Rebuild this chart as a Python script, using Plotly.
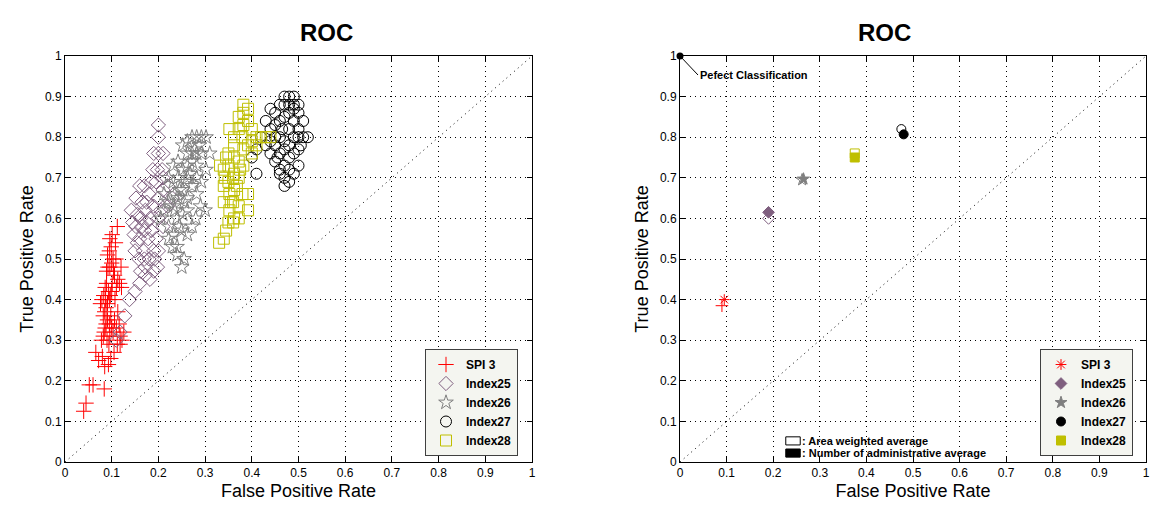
import plotly.graph_objects as go

# ---------------- data ----------------
series_names = ["SPI 3", "Index25", "Index26", "Index27", "Index28"]

spi3_points = [
    (0.040, 0.125), (0.045, 0.145), (0.052, 0.19), (0.060, 0.19), (0.084, 0.18), (0.085, 0.235),
    (0.072, 0.25), (0.066, 0.27), (0.080, 0.26), (0.093, 0.24), (0.098, 0.255), (0.105, 0.27),
    (0.112, 0.29), (0.122, 0.30), (0.126, 0.32), (0.118, 0.29), (0.078, 0.30), (0.082, 0.31),
    (0.084, 0.32), (0.086, 0.33), (0.088, 0.34), (0.090, 0.30), (0.094, 0.29), (0.096, 0.31),
    (0.100, 0.33), (0.106, 0.35), (0.082, 0.36), (0.085, 0.37), (0.088, 0.38), (0.091, 0.35),
    (0.095, 0.34), (0.098, 0.36), (0.103, 0.32), (0.110, 0.33), (0.116, 0.34), (0.076, 0.39),
    (0.079, 0.40), (0.083, 0.41), (0.087, 0.40), (0.091, 0.39), (0.095, 0.40), (0.100, 0.42),
    (0.110, 0.43), (0.086, 0.43), (0.089, 0.44), (0.093, 0.42), (0.097, 0.41), (0.101, 0.44),
    (0.106, 0.46), (0.113, 0.45), (0.121, 0.43), (0.089, 0.47), (0.092, 0.48), (0.096, 0.48),
    (0.100, 0.49), (0.104, 0.47), (0.109, 0.50), (0.091, 0.51), (0.095, 0.52), (0.099, 0.53),
    (0.103, 0.50), (0.096, 0.55), (0.101, 0.56), (0.108, 0.54), (0.112, 0.58), (0.117, 0.44),
    (0.120, 0.48), (0.107, 0.40), (0.113, 0.37), (0.118, 0.31),
]

index25_points = [
    (0.110, 0.30), (0.118, 0.32), (0.128, 0.36), (0.138, 0.40), (0.150, 0.42), (0.160, 0.44),
    (0.172, 0.46), (0.182, 0.45), (0.190, 0.47), (0.198, 0.48), (0.192, 0.50), (0.200, 0.52),
    (0.150, 0.52), (0.160, 0.55), (0.170, 0.57), (0.152, 0.58), (0.162, 0.60), (0.172, 0.62),
    (0.182, 0.60), (0.158, 0.50), (0.168, 0.52), (0.178, 0.55), (0.148, 0.56), (0.190, 0.63),
    (0.200, 0.65), (0.210, 0.67), (0.180, 0.66), (0.170, 0.68), (0.160, 0.68), (0.220, 0.68),
    (0.188, 0.72), (0.198, 0.72), (0.208, 0.72), (0.200, 0.76), (0.190, 0.76), (0.210, 0.76),
    (0.200, 0.83), (0.142, 0.62), (0.152, 0.65), (0.200, 0.60), (0.210, 0.58), (0.220, 0.63),
    (0.230, 0.65), (0.180, 0.50), (0.172, 0.48), (0.162, 0.47), (0.155, 0.54), (0.165, 0.58),
    (0.175, 0.59), (0.185, 0.57), (0.195, 0.55), (0.205, 0.62), (0.175, 0.64), (0.165, 0.64),
    (0.155, 0.61), (0.145, 0.59), (0.210, 0.70), (0.195, 0.69), (0.185, 0.69), (0.200, 0.80),
    (0.190, 0.52), (0.170, 0.50),
]

index26_points = [
    (0.250, 0.48), (0.255, 0.50), (0.240, 0.53), (0.222, 0.55), (0.232, 0.56), (0.250, 0.57),
    (0.262, 0.56), (0.272, 0.58), (0.240, 0.60), (0.252, 0.61), (0.262, 0.62), (0.232, 0.63),
    (0.222, 0.64), (0.242, 0.65), (0.252, 0.67), (0.272, 0.68), (0.262, 0.70), (0.242, 0.70),
    (0.232, 0.69), (0.222, 0.70), (0.282, 0.70), (0.292, 0.69), (0.252, 0.72), (0.262, 0.73),
    (0.272, 0.74), (0.282, 0.73), (0.242, 0.74), (0.302, 0.72), (0.310, 0.76), (0.282, 0.76),
    (0.272, 0.76), (0.292, 0.76), (0.262, 0.76), (0.252, 0.78), (0.272, 0.80), (0.282, 0.80),
    (0.292, 0.80), (0.302, 0.80), (0.262, 0.79), (0.212, 0.62), (0.212, 0.66), (0.300, 0.62),
    (0.280, 0.60), (0.290, 0.63), (0.262, 0.65), (0.282, 0.66), (0.232, 0.73), (0.205, 0.60),
    (0.222, 0.58), (0.245, 0.58), (0.235, 0.62), (0.255, 0.64), (0.245, 0.67), (0.235, 0.66),
    (0.268, 0.71), (0.258, 0.69), (0.278, 0.77), (0.288, 0.78), (0.230, 0.53), (0.240, 0.51),
]

index27_points = [
    (0.410, 0.71), (0.400, 0.75), (0.410, 0.77), (0.420, 0.80), (0.430, 0.78), (0.440, 0.76),
    (0.450, 0.74), (0.460, 0.72), (0.470, 0.70), (0.470, 0.68), (0.480, 0.69), (0.490, 0.71),
    (0.500, 0.73), (0.450, 0.78), (0.460, 0.80), (0.470, 0.79), (0.480, 0.78), (0.490, 0.80),
    (0.500, 0.80), (0.510, 0.80), (0.520, 0.80), (0.440, 0.82), (0.450, 0.83), (0.460, 0.84),
    (0.470, 0.85), (0.480, 0.86), (0.490, 0.87), (0.500, 0.88), (0.460, 0.88), (0.470, 0.88),
    (0.480, 0.88), (0.490, 0.88), (0.500, 0.86), (0.510, 0.84), (0.470, 0.90), (0.480, 0.90),
    (0.490, 0.90), (0.450, 0.86), (0.440, 0.87), (0.430, 0.84), (0.440, 0.79), (0.460, 0.76),
    (0.480, 0.75), (0.490, 0.76), (0.500, 0.77), (0.470, 0.73), (0.460, 0.71), (0.480, 0.82),
    (0.500, 0.82), (0.450, 0.80), (0.470, 0.77), (0.480, 0.72), (0.455, 0.75), (0.465, 0.82),
    (0.490, 0.84), (0.505, 0.78),
]

index28_points = [
    (0.330, 0.54), (0.340, 0.55), (0.345, 0.57), (0.350, 0.59), (0.360, 0.59), (0.362, 0.60),
    (0.352, 0.62), (0.340, 0.64), (0.360, 0.64), (0.372, 0.63), (0.352, 0.66), (0.362, 0.67),
    (0.380, 0.66), (0.392, 0.66), (0.340, 0.68), (0.350, 0.69), (0.372, 0.70), (0.362, 0.71),
    (0.340, 0.72), (0.350, 0.73), (0.372, 0.74), (0.382, 0.73), (0.362, 0.75), (0.350, 0.76),
    (0.382, 0.77), (0.392, 0.78), (0.400, 0.79), (0.410, 0.80), (0.420, 0.80), (0.430, 0.80),
    (0.440, 0.80), (0.380, 0.80), (0.362, 0.80), (0.372, 0.82), (0.382, 0.83), (0.392, 0.84),
    (0.372, 0.85), (0.382, 0.86), (0.392, 0.87), (0.382, 0.88), (0.362, 0.78), (0.352, 0.82),
    (0.400, 0.82), (0.400, 0.76), (0.372, 0.60), (0.392, 0.62), (0.342, 0.70), (0.332, 0.73),
    (0.360, 0.70), (0.410, 0.78), (0.355, 0.64), (0.368, 0.68), (0.345, 0.75), (0.375, 0.72),
]

area_weighted_fpr = [0.090, 0.190, 0.262, 0.475, 0.375]
area_weighted_tpr = [0.385, 0.600, 0.695, 0.820, 0.760]
admin_avg_fpr = [0.095, 0.190, 0.265, 0.480, 0.375]
admin_avg_tpr = [0.400, 0.615, 0.697, 0.807, 0.750]

perfect_fpr = [0.0]
perfect_tpr = [1.0]

tick_values = [0, 0.1, 0.2, 0.3, 0.4, 0.5, 0.6, 0.7, 0.8, 0.9, 1]
tick_labels = ["0", "0.1", "0.2", "0.3", "0.4", "0.5", "0.6", "0.7", "0.8", "0.9", "1"]

# ---------------- styles ----------------
colors = ["#ff0000", "#7f5f7f", "#7f7f7f", "#000000", "#bfbf00"]
open_symbols = ["cross-thin-open", "diamond-open", "star-open", "circle-open", "square-open"]
filled_symbols = ["asterisk-open", "diamond", "star", "circle", "square"]
point_sets = [spi3_points, index25_points, index26_points, index27_points, index28_points]

FONT = "Liberation Sans, Arial, Helvetica, sans-serif"

fig = go.Figure()

# diagonal reference lines
for xa, ya in (("x", "y"), ("x2", "y2")):
    fig.add_trace(go.Scatter(x=[0, 1], y=[0, 1], mode="lines", xaxis=xa, yaxis=ya,
                             line=dict(color="black", width=1, dash="1px,4px"),
                             showlegend=False, hoverinfo="skip"))

# left plot: all ROC points
for name, pts, col, sym in zip(series_names, point_sets, colors, open_symbols):
    fig.add_trace(go.Scatter(
        x=[p[0] for p in pts], y=[p[1] for p in pts], mode="markers", name="<b>%s</b>" % name,
        marker=dict(symbol=sym, size=11, color=col, line=dict(color=col, width=1)),
        xaxis="x", yaxis="y", legend="legend"))

# right plot: averages
for i, (name, col) in enumerate(zip(series_names, colors)):
    fig.add_trace(go.Scatter(
        x=[area_weighted_fpr[i]], y=[area_weighted_tpr[i]], mode="markers",
        marker=dict(symbol=open_symbols[i], size=9, color=col, line=dict(color=col, width=1)),
        xaxis="x2", yaxis="y2", showlegend=False))
for i, (name, col) in enumerate(zip(series_names, colors)):
    fig.add_trace(go.Scatter(
        x=[admin_avg_fpr[i]], y=[admin_avg_tpr[i]], mode="markers", name="<b>%s</b>" % name,
        marker=dict(symbol=filled_symbols[i], size=9, color=col, line=dict(color=col, width=1)),
        xaxis="x2", yaxis="y2", legend="legend2"))

fig.add_trace(go.Scatter(x=perfect_fpr, y=perfect_tpr, mode="markers", cliponaxis=False,
                         marker=dict(symbol="circle", size=7, color="black"),
                         xaxis="x2", yaxis="y2", showlegend=False))

axis_common = dict(range=[0, 1], tickvals=tick_values, ticktext=tick_labels,
                   showline=True, linecolor="black", linewidth=1, mirror="ticks",
                   ticks="inside", ticklen=5, tickcolor="black", automargin=False,
                   showgrid=True, gridcolor="black", gridwidth=1, griddash="1px,4px",
                   zeroline=False, tickfont=dict(family=FONT, size=12, color="black"))

xdom1 = [65 / 1167, 532 / 1167]
xdom2 = [680 / 1167, 1146 / 1167]
ydom = [(511 - 462) / 511, (511 - 56) / 511]

legend_common = dict(y=1 - 456 / 511, xanchor="left", yanchor="bottom",
                     bgcolor="#f4f5f0", bordercolor="#404040", borderwidth=1,
                     font=dict(family=FONT, size=12, color="black"), tracegroupgap=0)

fig.update_layout(
    width=1167, height=511, margin=dict(l=0, r=0, t=0, b=0, autoexpand=False),
    paper_bgcolor="white", plot_bgcolor="white",
    font=dict(family=FONT, color="black"),
    xaxis=dict(domain=xdom1, anchor="y", **axis_common,
               title=dict(text="False Positive Rate", font=dict(size=18), standoff=4)),
    yaxis=dict(domain=ydom, anchor="x", **axis_common,
               title=dict(text="True Positive Rate", font=dict(size=18), standoff=6)),
    xaxis2=dict(domain=xdom2, anchor="y2", **axis_common,
                title=dict(text="False Positive Rate", font=dict(size=18), standoff=4)),
    yaxis2=dict(domain=ydom, anchor="x2", **axis_common,
                title=dict(text="True Positive Rate", font=dict(size=18), standoff=6)),
    legend=dict(x=425 / 1167, **legend_common),
    legend2=dict(x=1040 / 1167, **legend_common),
    showlegend=True,
)

# titles
for dom in (xdom1, xdom2):
    fig.add_annotation(x=(dom[0] + dom[1]) / 2, y=1 - 32 / 511, xref="paper", yref="paper",
                       text="<b>ROC</b>", showarrow=False, yanchor="middle",
                       font=dict(family=FONT, size=24))

# perfect classification label
fig.add_annotation(x=0, y=1, xref="x2", yref="y2", text="<b>Pefect Classification</b>",
                   showarrow=True, arrowhead=0, arrowwidth=1, arrowcolor="black",
                   ax=18, ay=19, xanchor="left", yanchor="middle",
                   font=dict(family=FONT, size=11, color="black"))

# average-type key
fig.add_shape(type="rect", xref="x2", yref="y2", x0=0.227, x1=0.258, y0=0.042, y1=0.062,
              line=dict(color="black", width=1), fillcolor="white")
fig.add_shape(type="rect", xref="x2", yref="y2", x0=0.227, x1=0.258, y0=0.012, y1=0.032,
              line=dict(color="black", width=1), fillcolor="black")
fig.add_annotation(x=0.258, y=0.052, xref="x2", yref="y2", text="<b>: Area weighted average</b>",
                   showarrow=False, xanchor="left", yanchor="middle",
                   font=dict(family=FONT, size=11, color="black"))
fig.add_annotation(x=0.258, y=0.022, xref="x2", yref="y2",
                   text="<b>: Number of administrative average</b>",
                   showarrow=False, xanchor="left", yanchor="middle",
                   font=dict(family=FONT, size=11, color="black"))

fig.write_html("out.html", post_script="document.body.style.margin='0';",
               config={"displayModeBar": False})
